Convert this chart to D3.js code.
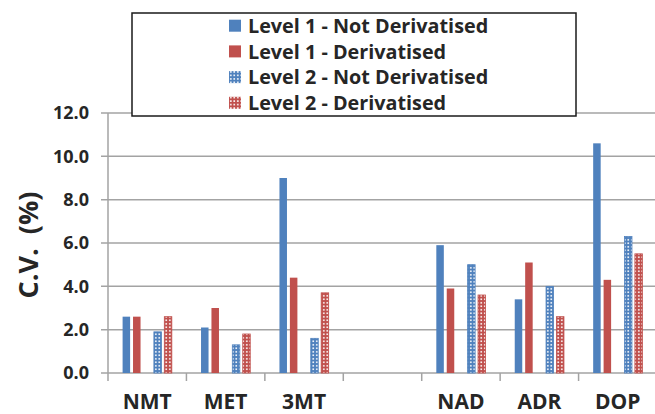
<!DOCTYPE html>
<html>
<head>
<meta charset="utf-8">
<script src="https://cdn.jsdelivr.net/npm/d3@7"></script>
<style>
	body { margin: 0; background: #fff; }
	text { font-family: "Open Sans", Lato, sans-serif; font-weight: bold; fill: #262626; }
</style>
</head>
<body>
<div id="graph"></div>
<script>
let width = 655;
let height = 414;

let padding = {
	top: 113,
	right: -2,
	bottom: 41,
	left: 108
	};

// Chart values:
let categories = ["NMT", "MET", "3MT", "", "NAD", "ADR", "DOP"];
let seriesNames = [
	"Level 1 - Not Derivatised",
	"Level 1 - Derivatised",
	"Level 2 - Not Derivatised",
	"Level 2 - Derivatised"
	];
let level1Not = [2.6, 2.1, 9.0, null, 5.9, 3.4, 10.6];
let level1Der = [2.6, 3.0, 4.4, null, 3.9, 5.1, 4.3];
let level2Not = [1.9, 1.3, 1.6, null, 5.0, 4.0, 6.3];
let level2Der = [2.6, 1.8, 3.7, null, 3.6, 2.6, 5.5];
let yTicks = [0, 2, 4, 6, 8, 10, 12];

let seriesValues = [level1Not, level1Der, level2Not, level2Der];
let seriesColours = ["#4F81BD", "#C0504D", "#4F81BD", "#C0504D"];
let seriesPatterned = [false, false, true, true];
// Excel leaves an empty slot between the two levels:
let slots = [seriesNames[0], seriesNames[1], "gap", seriesNames[2], seriesNames[3]];

let svg = d3.select("#graph")
	.append("svg")
		.attr("width", width)
		.attr("height", height)
	;

// Small grid fills for the Level 2 bars
let defs = svg.append("defs");
["blue", "red"].forEach((name, i) => {
	let pat = defs.append("pattern")
		.attr("id", "grid-" + name)
		.attr("patternUnits", "userSpaceOnUse")
		.attr("width", 3.5)
		.attr("height", 3.5)
		;
	pat.append("rect")
		.attr("width", 3.5)
		.attr("height", 3.5)
		.attr("fill", seriesColours[i])
		;
	pat.append("rect")
		.attr("x", 1)
		.attr("y", 1)
		.attr("width", 1.6)
		.attr("height", 1.6)
		.attr("fill", "#fff")
		;
	});
function fillFor(s) {
	if (!seriesPatterned[s]) return seriesColours[s];
	return s === 2 ? "url(#grid-blue)" : "url(#grid-red)";
	}

let xScale = d3.scaleBand()
	.domain(categories.map((c, i) => i))
	.range([padding.left, width - padding.right])
	;
let xInner = d3.scaleBand()
	.domain(slots)
	.range([0, xScale.bandwidth()])
	.paddingInner(0.28)
	.paddingOuter(1.4)
	;
let yScale = d3.scaleLinear()
	.domain([0, 12])
	.range([height - padding.bottom, padding.top])
	;

// Gridlines
svg.append("g")
	.selectAll("line")
	.data(yTicks)
	.enter()
		.append("line")
			.attr("x1", padding.left - 7)
			.attr("x2", width)
			.attr("y1", d => yScale(d))
			.attr("y2", d => yScale(d))
			.attr("stroke", "#a3a3a3")
			.attr("stroke-width", 1.5)
	;

// yAxis line + labels
svg.append("line")
	.attr("x1", padding.left)
	.attr("x2", padding.left)
	.attr("y1", yScale(12))
	.attr("y2", yScale(0))
	.attr("stroke", "#a3a3a3")
	.attr("stroke-width", 1.5)
	;
svg.append("g")
	.selectAll("text")
	.data(yTicks)
	.enter()
		.append("text")
			.attr("x", 89)
			.attr("y", d => yScale(d))
			.attr("dy", "0.36em")
			.attr("text-anchor", "end")
			.style("font-size", "18px")
			.text(d => d3.format(".1f")(d))
	;

// xAxis ticks at category borders
let borders = categories.map((c, i) => xScale(i)).concat([width - padding.right]);
svg.append("g")
	.selectAll("line")
	.data(borders)
	.enter()
		.append("line")
			.attr("x1", d => d)
			.attr("x2", d => d)
			.attr("y1", yScale(0))
			.attr("y2", yScale(0) + 8)
			.attr("stroke", "#a3a3a3")
			.attr("stroke-width", 1.5)
	;
svg.append("g")
	.selectAll("text")
	.data(categories)
	.enter()
		.append("text")
			.attr("x", (d, i) => xScale(i) + xScale.bandwidth() / 2)
			.attr("y", 409)
			.attr("text-anchor", "middle")
			.style("font-size", "21px")
			.text(d => d)
	;

// Bars
seriesValues.forEach((values, s) => {
	svg.append("g")
		.selectAll("rect")
		.data(values.map((v, i) => ({ i: i, v: v })).filter(d => d.v !== null))
		.enter()
			.append("rect")
				.attr("x", d => xScale(d.i) + xInner(seriesNames[s]))
				.attr("y", d => yScale(d.v))
				.attr("width", xInner.bandwidth())
				.attr("height", d => yScale(0) - yScale(d.v))
				.attr("fill", fillFor(s))
				.attr("stroke", seriesPatterned[s] ? seriesColours[s] : "none")
				.attr("stroke-width", 0.8)
		;
	});

// yAxis title
svg.append("text")
	.attr("transform", "translate(38, 245) rotate(-90)")
	.attr("text-anchor", "middle")
	.style("font-size", "27px")
	.attr("xml:space", "preserve")
	.text("C.V.  (%)")
	;

// Legend box
let legend = svg.append("g");
legend.append("rect")
	.attr("x", 132)
	.attr("y", 13)
	.attr("width", 444)
	.attr("height", 103)
	.attr("fill", "#fff")
	.attr("stroke", "#1a1a1a")
	.attr("stroke-width", 1.5)
	;
let entries = legend.selectAll("g.entry")
	.data(seriesNames)
	.enter()
		.append("g")
			.attr("class", "entry")
			.attr("transform", (d, i) => `translate(229, ${25.7 + i * 25.7})`)
	;
entries.append("rect")
	.attr("x", 0)
	.attr("y", -6)
	.attr("width", 12)
	.attr("height", 12)
	.attr("fill", (d, i) => fillFor(i))
	;
entries.append("text")
	.attr("x", 19)
	.attr("dy", "0.36em")
	.style("font-size", "19.8px")
	.text(d => d)
	;
</script>
</body>
</html>
